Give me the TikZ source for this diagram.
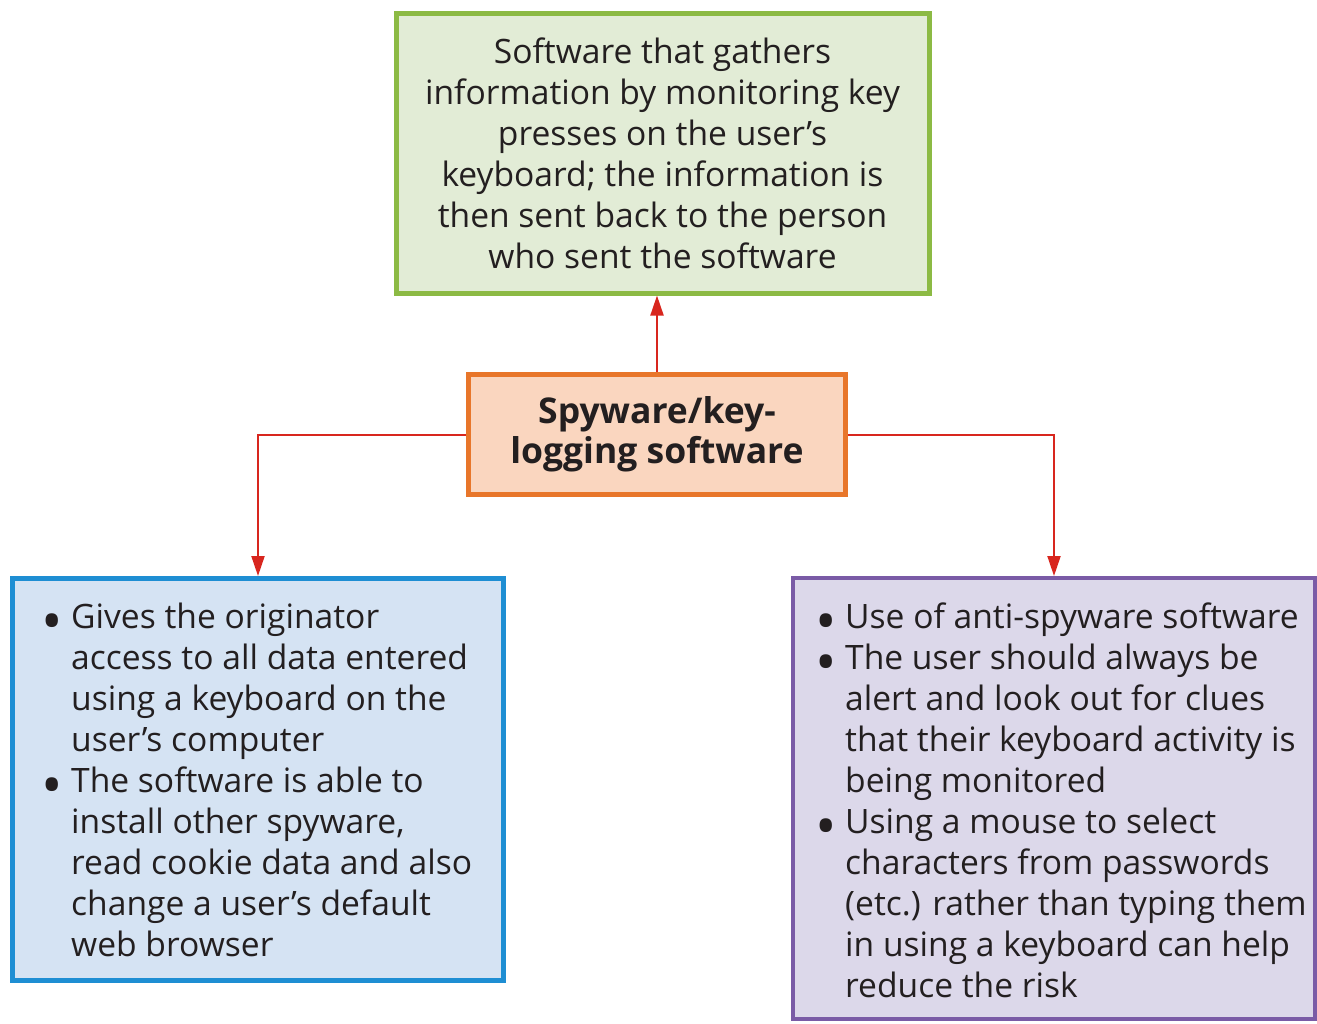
\documentclass[tikz,border=0pt]{standalone}
\usepackage{fontspec}
\setmainfont{Open Sans}
\usetikzlibrary{arrows.meta}
\definecolor{gborder}{HTML}{8CBA44}
\definecolor{gfill}{HTML}{E2ECD6}
\definecolor{oborder}{HTML}{E8762A}
\definecolor{ofill}{HTML}{FAD6BF}
\definecolor{bborder}{HTML}{1E8ED3}
\definecolor{bfill}{HTML}{D5E3F3}
\definecolor{pborder}{HTML}{7A5BA6}
\definecolor{pfill}{HTML}{DCD8EA}
\definecolor{arrred}{HTML}{D8261E}
\definecolor{txt}{HTML}{231F20}
\newcommand{\bul}{\makebox[26pt][l]{\hspace*{-4pt}\raisebox{-13pt}{\scalebox{1.7}{\textbullet}}}}
\newcommand{\ind}{\hspace*{26pt}}
\begin{document}
\begin{tikzpicture}[x=1pt,y=-1pt,
  boxstyle/.style={draw, rectangle, inner sep=0pt, text=txt},
  bodytext/.style={font=\fontsize{33.6}{41}\selectfont, text=txt, inner sep=0pt},
  arr/.style={draw=arrred, line width=2pt, -{Triangle[length=20pt,width=13pt]}, arrred}
]
\useasboundingbox (0,0) rectangle (1317,1023);
\fill[white] (0,0) rectangle (1317,1023);

\node[boxstyle, draw=gborder, fill=gfill, line width=5pt, minimum width=533pt, minimum height=280pt,
  align=center, font=\fontsize{33.6}{41}\selectfont] (green) at (662.5,153)
  {Software that gathers\\information by monitoring key\\presses on the user’s\\keyboard; the information is\\then sent back to the person\\who sent the software};

\node[boxstyle, draw=oborder, fill=ofill, line width=5pt, minimum width=377pt, minimum height=120pt,
  align=center, font=\bfseries\fontsize{35.5}{40}\selectfont] (orange) at (657,434.5)
  {Spyware/key-\\logging software};

\node[boxstyle, draw=bborder, fill=bfill, line width=5pt, minimum width=491pt, minimum height=402pt] (blue) at (258,779.5) {};
\node[boxstyle, draw=pborder, fill=pfill, line width=4pt, minimum width=522pt, minimum height=441pt] (purple) at (1054,798.5) {};

\node[bodytext, align=left, anchor=west] (bluetext) at (45,780)
  {\bul Gives the originator\\\ind access to all data entered\\\ind using a keyboard on the\\\ind user’s computer\\
   \bul The software is able to\\\ind install other spyware,\\\ind read cookie data and also\\\ind change a user’s default\\\ind web browser};

\node[bodytext, align=left, anchor=west] (purpletext) at (819,800)
  {\bul Use of anti-spyware software\\\bul The user should always be\\\ind alert and look out for clues\\\ind that their keyboard activity is\\\ind being monitored\\
   \bul Using a mouse to select\\\ind characters from passwords\\\ind (etc.) rather than typing them\\\ind in using a keyboard can help\\\ind reduce the risk};

\draw[arr] (orange.north) -- (orange.north |- green.south);
\draw[arr] (orange.west) -| (blue.north);
\draw[arr] (orange.east) -| (purple.north);
\end{tikzpicture}
\end{document}
